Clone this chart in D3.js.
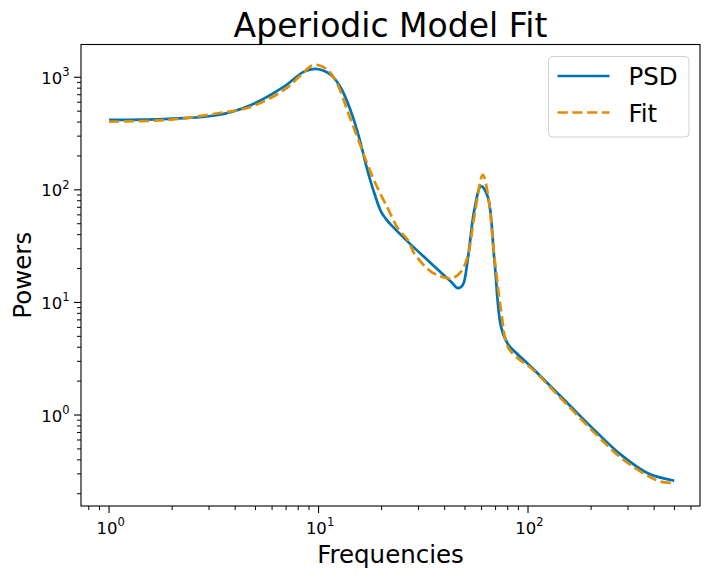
<!DOCTYPE html>
<html>
<head>
<meta charset="utf-8">
<script src="https://cdn.jsdelivr.net/npm/d3@7"></script>
<style>
  html, body { margin: 0; padding: 0; background: #fff; }
  svg { display: block; font-family: "DejaVu Sans", sans-serif; }
</style>
</head>
<body>
<svg id="chart" width="711" height="577"></svg>
<script>
// ---- data ----
const psdFreqs = [1.00, 1.91, 3.31, 4.76, 6.84, 8.53, 9.73, 11.47, 12.81, 14.29, 15.66, 16.86, 18.15, 19.88, 21.0, 22.19, 26.66, 34.4, 42.9, 46.2, 48.8, 51.5, 55.4, 59.7, 64.2, 69.1, 74.3, 80.0, 85.8, 92.6, 103.3, 149, 215, 278, 373, 499];
const psdPowers = [418, 427, 462, 568, 826, 1122, 1185, 1048, 798, 495, 287, 166, 103, 64, 55.0, 48.8, 34.7, 22.3, 15.3, 13.4, 14.3, 23.8, 66.2, 108, 87.1, 23.8, 6.10, 4.30, 3.70, 3.25, 2.68, 1.36, 0.689, 0.443, 0.304, 0.261];

const fitFreqs = [1.00, 1.91, 3.31, 4.76, 6.84, 8.25, 9.21, 9.91, 11.07, 12.35, 13.79, 15.39, 17.18, 19.17, 21.4, 23.9, 26.66, 28.6, 34.4, 41.4, 43.7, 47.9, 51.5, 55.4, 60.8, 64.2, 69.1, 74.3, 80.0, 89.3, 103.3, 149, 215, 278, 373, 431, 499];
const fitPowers = [404, 418, 479, 548, 771, 1048, 1260, 1285, 1161, 855, 495, 287, 166, 103, 68.7, 45.6, 35.9, 27.4, 18.8, 16.4, 16.4, 18.8, 25.5, 57.8, 136, 93.3, 25.5, 8.57, 4.05, 3.19, 2.62, 1.31, 0.652, 0.416, 0.288, 0.256, 0.248];

const xTickValues = [1, 10, 100];
const xTickExps = ["0", "1", "2"];
const yTickValues = [1, 10, 100, 1000];
const yTickExps = ["0", "1", "2", "3"];

const titleText = "Aperiodic Model Fit";
const xLabelText = "Frequencies";
const yLabelText = "Powers";
const seriesNames = ["PSD", "Fit"];
const seriesColors = ["#0173b2", "#de8f05"];

// ---- layout ----
const L = 81, R = 700, T = 44.5, B = 506;
const svg = d3.select("#chart");

const x = d3.scaleLog().domain([Math.pow(10, -0.134), Math.pow(10, 2.821)]).range([L, R]);
const y = d3.scaleLog().domain([Math.pow(10, -0.808), Math.pow(10, 3.291)]).range([B, T]);

function minorTicks(scale) {
  const [a, b] = scale.domain();
  const out = [];
  for (let e = Math.floor(Math.log10(a)); e <= Math.ceil(Math.log10(b)); e++) {
    for (let m = 2; m <= 9; m++) {
      const v = m * Math.pow(10, e);
      if (v >= a && v <= b) out.push(v);
    }
  }
  return out;
}

const axisColor = "#000";
const gx = svg.append("g");
gx.selectAll("line.minor").data(minorTicks(x)).join("line")
  .attr("x1", d => x(d)).attr("x2", d => x(d))
  .attr("y1", B).attr("y2", B + 4)
  .attr("stroke", axisColor).attr("stroke-width", 1);
gx.selectAll("line.major").data(xTickValues).join("line")
  .attr("x1", d => x(d)).attr("x2", d => x(d))
  .attr("y1", B).attr("y2", B + 7)
  .attr("stroke", axisColor).attr("stroke-width", 1.1);
xTickValues.forEach((v, i) => {
  const t = svg.append("text")
    .attr("x", x(v) + 1.5).attr("y", 533.5)
    .attr("text-anchor", "middle")
    .attr("font-size", 16.5).attr("fill", "#000");
  t.append("tspan").text("10");
  t.append("tspan").attr("dy", -7.5).attr("font-size", 11.5).text(xTickExps[i]);
});

const gy = svg.append("g");
gy.selectAll("line.minor").data(minorTicks(y)).join("line")
  .attr("y1", d => y(d)).attr("y2", d => y(d))
  .attr("x1", L).attr("x2", L - 4)
  .attr("stroke", axisColor).attr("stroke-width", 1);
gy.selectAll("line.major").data(yTickValues).join("line")
  .attr("y1", d => y(d)).attr("y2", d => y(d))
  .attr("x1", L).attr("x2", L - 7)
  .attr("stroke", axisColor).attr("stroke-width", 1.1);
yTickValues.forEach((v, i) => {
  const t = svg.append("text")
    .attr("x", 69.5).attr("y", y(v) + 6.5)
    .attr("text-anchor", "end")
    .attr("font-size", 16.5).attr("fill", "#000");
  t.append("tspan").text("10");
  t.append("tspan").attr("dy", -7.5).attr("font-size", 11.5).text(yTickExps[i]);
});

// lines
const line = d3.line().x(d => x(d[0])).y(d => y(d[1])).curve(d3.curveCatmullRom.alpha(0.5));
const psdData = psdFreqs.map((f, i) => [f, psdPowers[i]]);
const fitData = fitFreqs.map((f, i) => [f, fitPowers[i]]);

svg.append("path").datum(psdData).attr("d", line)
  .attr("fill", "none").attr("stroke", seriesColors[0]).attr("stroke-width", 2.7)
  .attr("stroke-linejoin", "round");
svg.append("path").datum(fitData).attr("d", line)
  .attr("fill", "none").attr("stroke", seriesColors[1]).attr("stroke-width", 2.7)
  .attr("stroke-dasharray", "10.3,4.5");

// frame
svg.append("rect").attr("x", L).attr("y", T).attr("width", R - L).attr("height", B - T)
  .attr("fill", "none").attr("stroke", "#000").attr("stroke-width", 1.1);

// title & labels
svg.append("text").attr("x", (L + R) / 2).attr("y", 37).attr("text-anchor", "middle")
  .attr("font-size", 33).attr("fill", "#000").text(titleText);
svg.append("text").attr("x", (L + R) / 2).attr("y", 563).attr("text-anchor", "middle")
  .attr("font-size", 24.5).attr("fill", "#000").text(xLabelText);
svg.append("text").attr("transform", `translate(31,${(T + B) / 2}) rotate(-90)`)
  .attr("text-anchor", "middle")
  .attr("font-size", 24.5).attr("fill", "#000").text(yLabelText);

// legend
const lg = svg.append("g");
lg.append("rect").attr("x", 548.5).attr("y", 56.5).attr("width", 140.5).attr("height", 80.5)
  .attr("rx", 4).attr("fill", "#fff").attr("fill-opacity", 0.8)
  .attr("stroke", "#d0d0d0").attr("stroke-width", 1);
const legendY = [76, 112.5];
seriesNames.forEach((name, i) => {
  lg.append("line").attr("x1", 557.5).attr("x2", 609.5)
    .attr("y1", legendY[i]).attr("y2", legendY[i])
    .attr("stroke", seriesColors[i]).attr("stroke-width", 2.7)
    .attr("stroke-dasharray", i === 1 ? "10.3,4.5" : null);
  lg.append("text").attr("x", 628.5).attr("y", legendY[i] + 9)
    .attr("font-size", 24.5).attr("fill", "#000").text(name);
});
</script>
</body>
</html>
